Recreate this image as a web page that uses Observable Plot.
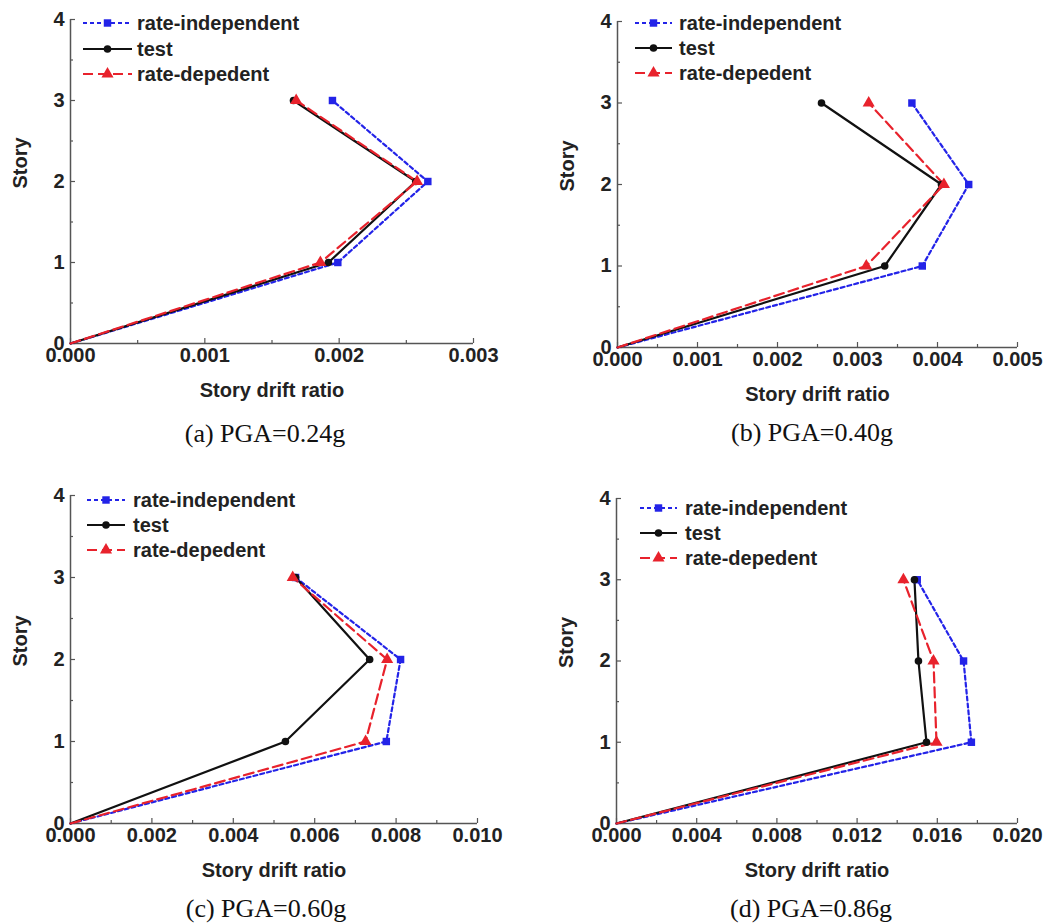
<!DOCTYPE html>
<html>
<head>
<meta charset="utf-8">
<script src="https://cdn.jsdelivr.net/npm/d3@7"></script>
<script src="https://cdn.jsdelivr.net/npm/@observablehq/plot@0.6"></script>
<style>
  html, body { margin: 0; padding: 0; background: #fff; }
  #root { position: relative; width: 1046px; height: 924px; overflow: hidden; background: #fff; }
  .panel { position: absolute; }
  .caption { position: absolute; font-family: "Liberation Serif", "Times New Roman", serif; font-size: 26px; line-height: 26px; color: #111; white-space: nowrap; transform: translateX(-50%); }
</style>
</head>
<body>
<div id="root"></div>
<script>
// ---------- data ----------
const stories = [0, 1, 2, 3];
const seriesNames = ["rate-independent", "test", "rate-depedent"];

const aIndependent = [0, 0.00199, 0.00266, 0.00195];
const aTest        = [0, 0.00192, 0.00257, 0.00166];
const aDependent   = [0, 0.00186, 0.00258, 0.00168];

const bIndependent = [0, 0.00381, 0.00439, 0.00368];
const bTest        = [0, 0.00334, 0.00405, 0.00255];
const bDependent   = [0, 0.00311, 0.00408, 0.00314];

const cIndependent = [0, 0.00776, 0.00811, 0.00553];
const cTest        = [0, 0.00528, 0.00735, 0.00553];
const cDependent   = [0, 0.00725, 0.00778, 0.00546];

const dIndependent = [0, 0.01770, 0.01731, 0.01500];
const dTest        = [0, 0.01546, 0.01506, 0.01486];
const dDependent   = [0, 0.01596, 0.01581, 0.01431];

const aTicks = [0, 0.001, 0.002, 0.003];
const bTicks = [0, 0.001, 0.002, 0.003, 0.004, 0.005];
const cTicks = [0, 0.002, 0.004, 0.006, 0.008, 0.010];
const dTicks = [0, 0.004, 0.008, 0.012, 0.016, 0.020];
const yTicks = [0, 1, 2, 3, 4];
const yMinor = [0.5, 1.5, 2.5, 3.5];

const captions = ["(a) PGA=0.24g", "(b) PGA=0.40g", "(c) PGA=0.60g", "(d) PGA=0.86g"];
const xTitle = "Story drift ratio";
const yTitle = "Story";

// ---------- styles ----------
const styles = {
  "rate-independent": {stroke: "#2323e8", dash: "4,3", symbol: "square", r: 4.2},
  "test": {stroke: "#111111", dash: null, symbol: "circle", r: 3.8},
  "rate-depedent": {stroke: "#e8222c", dash: "10,5", symbol: "triangle", r: 4.5}
};

const panels = [
  {left: 0, top: 0, width: 520, height: 420, ml: 70, mr: 47, mt: 19, mb: 77,
   series: [aIndependent, aTest, aDependent], ticks: aTicks,
   legend: {x1: 13, x2: 62, tx: 67, rows: [4, 30, 55]},
   cap: {x: 265, top: 421}},
  {left: 520, top: 0, width: 526, height: 420, ml: 97, mr: 29, mt: 21, mb: 73,
   series: [bIndependent, bTest, bDependent], ticks: bTicks,
   legend: {x1: 18, x2: 55, tx: 62, rows: [2, 27, 52]},
   cap: {x: 812, top: 420}},
  {left: 0, top: 460, width: 520, height: 440, ml: 70, mr: 43, mt: 35, mb: 77,
   series: [cIndependent, cTest, cDependent], ticks: cTicks,
   legend: {x1: 17, x2: 55, tx: 63, rows: [5, 30, 55]},
   cap: {x: 266, top: 896}},
  {left: 520, top: 460, width: 526, height: 440, ml: 96, mr: 29, mt: 38, mb: 77,
   series: [dIndependent, dTest, dDependent], ticks: dTicks,
   legend: {x1: 24, x2: 61, tx: 69, rows: [10, 35, 60]},
   cap: {x: 811, top: 896}}
];

const root = document.getElementById("root");
const axisColor = "#555";
const textColor = "#222";

panels.forEach((p, pi) => {
  const rows = [];
  p.series.forEach((vals, si) => {
    vals.forEach((v, k) => rows.push({series: seriesNames[si], x: v, y: stories[k]}));
  });
  const xmax = p.ticks[p.ticks.length - 1];
  const minor = p.ticks.slice(1).map((t, i) => (t + p.ticks[i]) / 2);
  const fmt = d3.format(".3f");

  const marks = [];
  marks.push(Plot.ruleY([0], {stroke: axisColor, strokeWidth: 1.5}));
  marks.push(Plot.ruleX([0], {stroke: axisColor, strokeWidth: 1.5}));
  marks.push(Plot.axisX({ticks: p.ticks, tickSize: -5, tickFormat: () => "", stroke: axisColor, strokeWidth: 1.2, label: null}));
  marks.push(Plot.axisX({ticks: minor, tickSize: -3, tickFormat: () => "", stroke: axisColor, strokeWidth: 1.2, label: null}));
  marks.push(Plot.axisY({ticks: yTicks, tickSize: -5, tickFormat: () => "", stroke: axisColor, strokeWidth: 1.2, label: null}));
  marks.push(Plot.axisY({ticks: yMinor, tickSize: -3, tickFormat: () => "", stroke: axisColor, strokeWidth: 1.2, label: null}));
  marks.push(Plot.axisX({ticks: p.ticks, tickSize: 0, tickPadding: 4, tickFormat: fmt, fontSize: 20, fontWeight: "bold", fill: textColor, label: null}));
  marks.push(Plot.axisY({ticks: yTicks, tickSize: 0, tickPadding: 6, tickFormat: d3.format("d"), fontSize: 20, fontWeight: "bold", fill: textColor, label: null}));
  marks.push(Plot.text([xTitle], {text: d => d, frameAnchor: "bottom", dy: 53, fontSize: 20, fontWeight: "bold", fill: textColor}));
  marks.push(Plot.text([yTitle], {text: d => d, frameAnchor: "left", rotate: -90, dx: -50, dy: 7, fontSize: 20, fontWeight: "bold", fill: textColor}));
  seriesNames.forEach(name => {
    const st = styles[name];
    const data = rows.filter(d => d.series === name);
    marks.push(Plot.line(data, {x: "x", y: "y", stroke: st.stroke, strokeWidth: 2.2, strokeDasharray: st.dash, curve: "linear"}));
  });
  seriesNames.forEach(name => {
    const st = styles[name];
    const data = rows.filter(d => d.series === name && d.y > 0);
    marks.push(Plot.dot(data, {x: "x", y: "y", symbol: () => st.symbol, r: st.r, fill: st.stroke, stroke: "none"}));
  });

  const chart = Plot.plot({
    width: p.width, height: p.height,
    marginLeft: p.ml, marginRight: p.mr, marginTop: p.mt, marginBottom: p.mb,
    x: {domain: [0, xmax]},
    y: {domain: [0, 4]},
    symbol: {domain: ["square", "circle", "triangle"], range: ["square", "circle", "triangle"]},
    style: {fontFamily: "'Liberation Sans', Arial, sans-serif", background: "transparent", overflow: "visible", color: textColor},
    marks
  });
  chart.classList.add("panel");
  chart.style.left = p.left + "px";
  chart.style.top = p.top + "px";
  root.appendChild(chart);

  // legend (pixel layout inside the frame)
  const svg = d3.select(chart);
  const lg = svg.append("g").attr("transform", `translate(${p.ml},${p.mt})`);
  seriesNames.forEach((name, i) => {
    const st = styles[name];
    const y = p.legend.rows[i];
    lg.append("line").attr("x1", p.legend.x1).attr("x2", p.legend.x2).attr("y1", y).attr("y2", y)
      .attr("stroke", st.stroke).attr("stroke-width", 2.2).attr("stroke-dasharray", st.dash);
    const cx = (p.legend.x1 + p.legend.x2) / 2;
    const sym = st.symbol === "square" ? d3.symbolSquare : st.symbol === "circle" ? d3.symbolCircle : d3.symbolTriangle;
    lg.append("path").attr("d", d3.symbol(sym, Math.PI * st.r * st.r)()).attr("transform", `translate(${cx},${y})`).attr("fill", st.stroke);
    lg.append("text").attr("x", p.legend.tx).attr("y", y).attr("dy", "0.35em")
      .attr("text-anchor", "start")
      .attr("font-size", 20).attr("font-weight", "bold").attr("fill", textColor).text(name);
  });

  const cap = document.createElement("div");
  cap.className = "caption";
  cap.style.left = p.cap.x + "px";
  cap.style.top = p.cap.top + "px";
  cap.textContent = captions[pi];
  root.appendChild(cap);
});
</script>
</body>
</html>
